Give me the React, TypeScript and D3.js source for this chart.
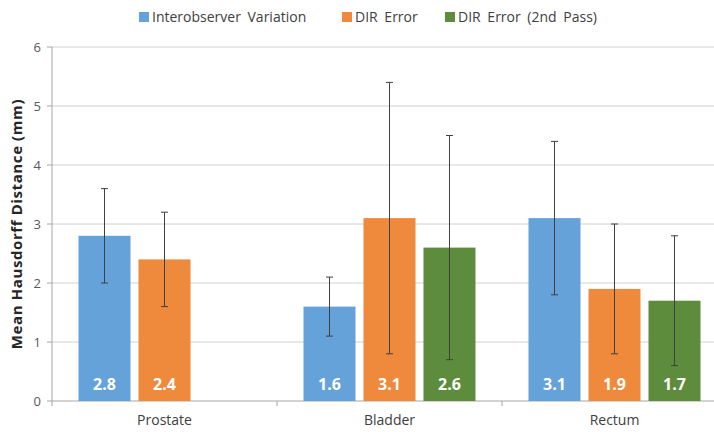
import React from "react";
import * as d3 from "d3";

const categories = ["Prostate", "Bladder", "Rectum"];
const seriesNames = ["Interobserver Variation", "DIR Error", "DIR Error (2nd Pass)"];
const interobserver = [2.8, 1.6, 3.1];
const dirError = [2.4, 3.1, 1.9];
const dirError2 = [null, 2.6, 1.7];
const interobserverErr = [[2.0, 3.6], [1.1, 2.1], [1.8, 4.4]];
const dirErrorErr = [[1.6, 3.2], [0.8, 5.4], [0.8, 3.0]];
const dirError2Err = [null, [0.7, 4.5], [0.6, 2.8]];
const yTicks = [0, 1, 2, 3, 4, 5, 6];

const colors = ["#65A2D9", "#EF893B", "#5E8C3D"];
const values = [interobserver, dirError, dirError2];
const errs = [interobserverErr, dirErrorErr, dirError2Err];

export default function App() {
  const W = 714, H = 432;
  const x0 = d3.scaleBand<string>().domain(categories).range([52, 727]);
  const x1 = d3.scaleBand<string>().domain(seriesNames).range([26.5, 198.5]).paddingInner(0.133);
  const y = d3.scaleLinear().domain([0, 6]).range([401, 47]);
  const font = "'Open Sans', sans-serif";
  const legendX = [139, 342, 445];

  return (
    <svg width={W} height={H} style={{ position: "absolute", left: 0, top: 0, background: "#fff" }} fontFamily={font}>
      {yTicks.map((t) => (
        <g key={t}>
          {t > 0 && <line x1={52} x2={W} y1={y(t)} y2={y(t)} stroke="#D0D0D0" strokeWidth={1} />}
          <line x1={47} x2={52} y1={y(t)} y2={y(t)} stroke="#A6A6A6" />
          <text x={41} y={y(t) + 4.5} textAnchor="end" fontSize={13} fill="#595959">{t}</text>
        </g>
      ))}
      <line x1={52} x2={52} y1={y(6)} y2={y(0)} stroke="#A6A6A6" />
      <line x1={52} x2={W} y1={y(0)} y2={y(0)} stroke="#A6A6A6" />
      {[0, 1, 2, 3].map((i) => (
        <line key={i} x1={52 + i * x0.bandwidth()} x2={52 + i * x0.bandwidth()} y1={y(0)} y2={y(0) + 5} stroke="#A6A6A6" />
      ))}
      {categories.map((c, ci) => (
        <g key={c}>
          {seriesNames.map((s, si) => {
            const v = values[si][ci];
            if (v == null) return null;
            const bx = (x0(c) as number) + (x1(s) as number);
            const bw = x1.bandwidth();
            const e = errs[si][ci] as number[];
            const cx = bx + bw / 2;
            return (
              <g key={s}>
                <rect x={bx} y={y(v)} width={bw} height={y(0) - y(v)} fill={colors[si]} />
                <line x1={cx} x2={cx} y1={y(e[0])} y2={y(e[1])} stroke="#404040" strokeWidth={1} />
                <line x1={cx - 3.5} x2={cx + 3.5} y1={y(e[0])} y2={y(e[0])} stroke="#404040" strokeWidth={1} />
                <line x1={cx - 3.5} x2={cx + 3.5} y1={y(e[1])} y2={y(e[1])} stroke="#404040" strokeWidth={1} />
                <text x={cx} y={390} textAnchor="middle" fontSize={16} fontWeight="bold" fill="#fff">{v.toFixed(1)}</text>
              </g>
            );
          })}
          <text x={(x0(c) as number) + x0.bandwidth() / 2} y={425} textAnchor="middle" fontSize={14} fill="#404040">{c}</text>
        </g>
      ))}
      <text transform={`translate(22,${(y(0) + y(6)) / 2}) rotate(-90)`} textAnchor="middle" fontSize={15} letterSpacing={0.6} fontWeight="bold" fill="#262626">Mean Hausdorff Distance (mm)</text>
      {seriesNames.map((s, i) => (
        <g key={s}>
          <rect x={legendX[i]} y={12} width={10} height={10} fill={colors[i]} />
          <text x={legendX[i] + 13} y={22} fontSize={14} fill="#404040" wordSpacing={3}>{s}</text>
        </g>
      ))}
    </svg>
  );
}
